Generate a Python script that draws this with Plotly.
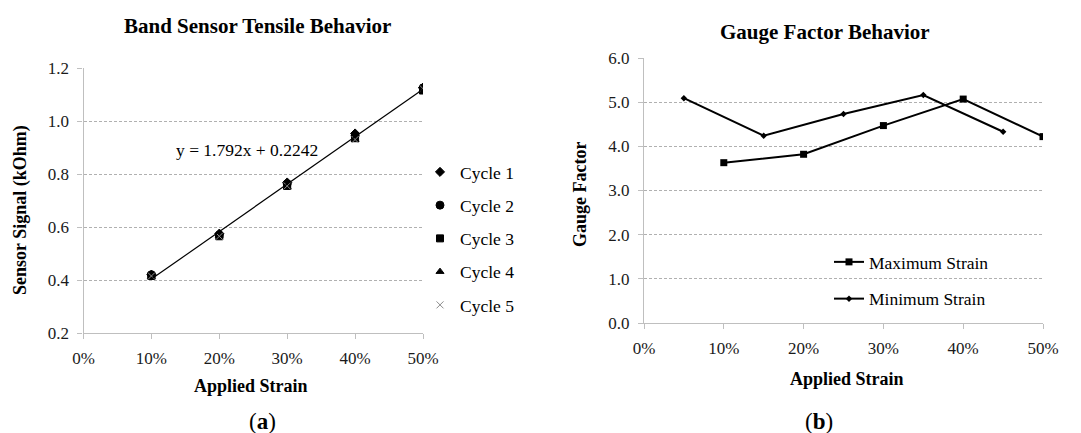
import numpy as np
import plotly.graph_objects as go

W, H = 1081, 433

# ---- Panel (a): band sensor tensile behaviour ----
strain_a = [0.10, 0.20, 0.30, 0.40, 0.50]
cycle_names = ["Cycle 1", "Cycle 2", "Cycle 3", "Cycle 4", "Cycle 5"]
cycle_1 = [0.420, 0.575, 0.768, 0.953, 1.126]
cycle_2 = [0.420, 0.570, 0.763, 0.945, 1.125]
cycle_3 = [0.415, 0.565, 0.755, 0.935, 1.115]
cycle_4 = [0.413, 0.568, 0.750, 0.930, 1.117]
cycle_5 = [0.415, 0.565, 0.755, 0.930, 1.122]
cycle_symbols = ["diamond", "circle", "square", "triangle-up", "x-thin"]
cycle_colors = ["black", "black", "black", "black", "#8c8c8c"]
fit_slope = 1.792
fit_intercept = 0.2242

# ---- Panel (b): gauge factor behaviour ----
strain_max = [0.10, 0.20, 0.30, 0.40, 0.50]
gf_max = [3.63, 3.82, 4.47, 5.07, 4.22]
strain_min = [0.05, 0.15, 0.25, 0.35, 0.45]
gf_min = [5.09, 4.24, 4.73, 5.16, 4.33]

x_ticks = [0.0, 0.1, 0.2, 0.3, 0.4, 0.5]
x_tick_text = ["0%", "10%", "20%", "30%", "40%", "50%"]

SERIF = "'Liberation Serif', 'Times New Roman', Times, 'DejaVu Serif', serif"
AX_GRAY = "#bfbfbf"
GRID_GRAY = "#b0b0b0"


def px_x(p):
    return p / W


def px_y(p):
    return 1 - p / H


fig = go.Figure()

cycles = [cycle_1, cycle_2, cycle_3, cycle_4, cycle_5]
sizes = [7, 8, 7, 7, 7]
for i, (name, vals) in enumerate(zip(cycle_names, cycles)):
    fig.add_trace(go.Scatter(
        x=strain_a, y=vals, mode="markers", name=name,
        marker=dict(symbol=cycle_symbols[i], size=sizes[i], color=cycle_colors[i],
                    line=dict(width=1, color=cycle_colors[i])),
        xaxis="x", yaxis="y", legend="legend", legendgroup=name,
    ))

fit_x = np.array([strain_a[0], strain_a[-1]])
fit_y = fit_slope * fit_x + fit_intercept
fig.add_trace(go.Scatter(
    x=fit_x, y=fit_y, mode="lines", showlegend=False,
    line=dict(color="black", width=1.2), xaxis="x", yaxis="y",
))

fig.add_trace(go.Scatter(
    x=strain_max, y=gf_max, mode="lines+markers", name="Maximum Strain",
    line=dict(color="black", width=2),
    marker=dict(symbol="square", size=7, color="black"),
    xaxis="x2", yaxis="y2", legend="legend2", legendgroup="max",
))
fig.add_trace(go.Scatter(
    x=strain_min, y=gf_min, mode="lines+markers", name="Minimum Strain",
    line=dict(color="black", width=2),
    marker=dict(symbol="diamond", size=5, color="black"),
    xaxis="x2", yaxis="y2", legend="legend2", legendgroup="min",
))

tick_font = dict(family=SERIF, size=17, color="#1a1a1a")


def xaxis_cfg(domain, anchor):
    return dict(
        domain=domain, anchor=anchor, range=[0, 0.5], tickvals=x_ticks,
        ticktext=x_tick_text, showline=True, linecolor=AX_GRAY, linewidth=1.3,
        ticks="outside", ticklen=5, tickcolor=AX_GRAY, showgrid=False,
        zeroline=False, tickfont=tick_font, ticklabelstandoff=4, automargin=False,
    )


def yaxis_cfg(domain, anchor, rng, dtick):
    return dict(
        domain=domain, anchor=anchor, range=rng, dtick=dtick, tick0=rng[0],
        tickformat=".1f", showline=True, linecolor=AX_GRAY, linewidth=1.3,
        ticks="outside", ticklen=5, tickcolor=AX_GRAY, showgrid=True,
        gridcolor=GRID_GRAY, gridwidth=0.8, griddash="3px,2px",
        zeroline=False, tickfont=tick_font, ticklabelstandoff=5, automargin=False,
    )


fig.update_layout(
    width=W, height=H, margin=dict(l=0, r=0, t=0, b=0, autoexpand=False),
    paper_bgcolor="white", plot_bgcolor="white",
    xaxis=xaxis_cfg([px_x(83.5), px_x(423)], "y"),
    yaxis=yaxis_cfg([px_y(333), px_y(68)], "x", [0.2, 1.2], 0.2),
    xaxis2=xaxis_cfg([px_x(644), px_x(1043)], "y2"),
    yaxis2=yaxis_cfg([px_y(323), px_y(58)], "x2", [0, 6], 1),
    legend=dict(
        x=px_x(420), y=px_y(154), xanchor="left", yanchor="top",
        font=dict(family=SERIF, size=17.5, color="black"),
        tracegroupgap=7.5, itemwidth=30, bgcolor="rgba(0,0,0,0)",
    ),
    legend2=dict(
        x=px_x(829), y=px_y(244), xanchor="left", yanchor="top",
        font=dict(family=SERIF, size=17.5, color="black"),
        tracegroupgap=11, itemwidth=30, bgcolor="rgba(0,0,0,0)",
    ),
    showlegend=True,
)

annotations = [
    dict(text="<b>Band Sensor Tensile Behavior</b>", x=px_x(257), y=px_y(26), size=21),
    dict(text="<b>Gauge Factor Behavior</b>", x=px_x(825), y=px_y(32), size=21),
    dict(text="<b>Applied Strain</b>", x=px_x(251), y=px_y(386), size=18),
    dict(text="<b>Applied Strain</b>", x=px_x(847), y=px_y(379), size=18),
    dict(text="y = 1.792x + 0.2242", x=px_x(247), y=px_y(150), size=17.5),
    dict(text="(<b>a</b>)", x=px_x(262), y=px_y(421), size=23),
    dict(text="(<b>b</b>)", x=px_x(819), y=px_y(421), size=23),
]
for a in annotations:
    fig.add_annotation(
        text=a["text"], x=a["x"], y=a["y"], xref="paper", yref="paper",
        xanchor="center", yanchor="middle", showarrow=False,
        font=dict(family=SERIF, size=a["size"], color="black"),
    )

for text, xp, yp in [("<b>Sensor Signal (kOhm)</b>", 20, 210), ("<b>Gauge Factor</b>", 580, 195)]:
    fig.add_annotation(
        text=text, x=px_x(xp), y=px_y(yp), xref="paper", yref="paper",
        xanchor="center", yanchor="middle", showarrow=False, textangle=-90,
        font=dict(family=SERIF, size=18, color="black"),
    )

fig.write_html("out.html")
